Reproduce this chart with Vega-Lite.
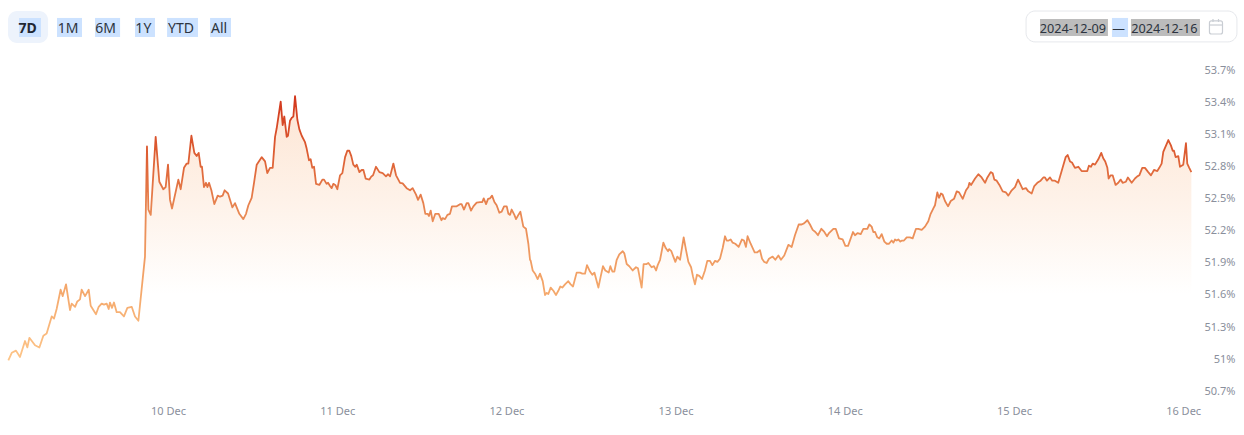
{"$schema":"https://vega.github.io/schema/vega-lite/v6.json","width":1244,"height":432,"padding":0,"autosize":{"type":"none"},"background":"#ffffff","config":{"view":{"stroke":null},"font":"Noto Sans"},
"datasets":{
"panels":[{"t":"2024-12-09T01:18","t2":"2024-12-09T06:59","v":54.247,"v2":53.948}],
"dateBox":[{"t":"2024-12-15T01:43","t2":"2024-12-16T07:38","v":54.247,"v2":53.958}],
"selBlue":[{"t":"2024-12-09T02:52","t2":"2024-12-09T05:59","v":54.182,"v2":54.004},{"t":"2024-12-09T08:15","t2":"2024-12-09T11:48","v":54.182,"v2":54.004},{"t":"2024-12-09T13:39","t2":"2024-12-09T17:12","v":54.182,"v2":54.004},{"t":"2024-12-09T19:19","t2":"2024-12-09T22:09","v":54.182,"v2":54.004},{"t":"2024-12-09T23:52","t2":"2024-12-10T04:15","v":54.182,"v2":54.004},{"t":"2024-12-10T05:58","t2":"2024-12-10T08:56","v":54.182,"v2":54.004},{"t":"2024-12-15T13:54","t2":"2024-12-15T16:11","v":54.182,"v2":54.004}],
"selGray":[{"t":"2024-12-15T03:42","t2":"2024-12-15T13:20","v":54.172,"v2":54.013},{"t":"2024-12-15T16:36","t2":"2024-12-16T02:23","v":54.172,"v2":54.013}],
"icon":[{"t":"2024-12-16T03:44","t2":"2024-12-16T05:35","v":54.154,"v2":54.032}],
"iconLine":[{"t":"2024-12-16T03:44","t2":"2024-12-16T05:35","v":54.116}],
"iconTabs":[{"t":"2024-12-16T04:14","v":54.172,"v2":54.144},{"t":"2024-12-16T05:01","v":54.172,"v2":54.144}],
"active":[{"t":"2024-12-09T04:05","v":54.079,"label":"7D"}],
"buttons":[{"t":"2024-12-09T09:50","v":54.079,"label":"1M"},{"t":"2024-12-09T15:08","v":54.079,"label":"6M"},{"t":"2024-12-09T20:30","v":54.079,"label":"1Y"},{"t":"2024-12-10T01:50","v":54.079,"label":"YTD"},{"t":"2024-12-10T07:15","v":54.079,"label":"All"}],
"dates":[{"t":"2024-12-15T08:22","v":54.079,"label":"2024-12-09"},{"t":"2024-12-15T14:50","v":54.079,"label":"—"},{"t":"2024-12-15T21:20","v":54.079,"label":"2024-12-16"}],
"series":[
{"t":"2024-12-09T01:21","v":50.98},{"t":"2024-12-09T01:50","v":51.05},{"t":"2024-12-09T02:26","v":51.07},{"t":"2024-12-09T03:00","v":51.01},{"t":"2024-12-09T03:43","v":51.16},{"t":"2024-12-09T04:03","v":51.10},{"t":"2024-12-09T04:20","v":51.19},{"t":"2024-12-09T05:08","v":51.12},{"t":"2024-12-09T05:45","v":51.10},{"t":"2024-12-09T06:19","v":51.21},{"t":"2024-12-09T06:47","v":51.23},{"t":"2024-12-09T07:30","v":51.39},{"t":"2024-12-09T07:50","v":51.37},{"t":"2024-12-09T08:12","v":51.46},{"t":"2024-12-09T08:46","v":51.64},{"t":"2024-12-09T09:04","v":51.58},{"t":"2024-12-09T09:32","v":51.69},{"t":"2024-12-09T10:06","v":51.45},{"t":"2024-12-09T10:20","v":51.51},{"t":"2024-12-09T10:49","v":51.48},{"t":"2024-12-09T11:08","v":51.53},{"t":"2024-12-09T11:31","v":51.55},{"t":"2024-12-09T11:45","v":51.64},{"t":"2024-12-09T12:14","v":51.58},{"t":"2024-12-09T12:45","v":51.64},{"t":"2024-12-09T13:02","v":51.49},{"t":"2024-12-09T13:47","v":51.41},{"t":"2024-12-09T14:10","v":51.48},{"t":"2024-12-09T14:35","v":51.51},{"t":"2024-12-09T14:55","v":51.50},{"t":"2024-12-09T15:18","v":51.51},{"t":"2024-12-09T15:35","v":51.46},{"t":"2024-12-09T15:46","v":51.52},{"t":"2024-12-09T16:03","v":51.47},{"t":"2024-12-09T16:20","v":51.52},{"t":"2024-12-09T16:43","v":51.43},{"t":"2024-12-09T17:11","v":51.43},{"t":"2024-12-09T17:45","v":51.39},{"t":"2024-12-09T18:14","v":51.47},{"t":"2024-12-09T18:51","v":51.48},{"t":"2024-12-09T19:19","v":51.39},{"t":"2024-12-09T19:48","v":51.35},{"t":"2024-12-09T20:44","v":51.95},{"t":"2024-12-09T21:01","v":52.98},{"t":"2024-12-09T21:13","v":52.39},{"t":"2024-12-09T21:33","v":52.34},{"t":"2024-12-09T22:15","v":53.07},{"t":"2024-12-09T22:46","v":52.65},{"t":"2024-12-09T23:20","v":52.58},{"t":"2024-12-09T23:40","v":52.60},
{"t":"2024-12-10T00:00","v":52.81},{"t":"2024-12-10T00:17","v":52.48},{"t":"2024-12-10T00:34","v":52.40},{"t":"2024-12-10T01:28","v":52.67},{"t":"2024-12-10T01:48","v":52.58},{"t":"2024-12-10T02:16","v":52.78},{"t":"2024-12-10T02:39","v":52.82},{"t":"2024-12-10T02:53","v":52.82},{"t":"2024-12-10T03:19","v":53.08},{"t":"2024-12-10T03:44","v":52.92},{"t":"2024-12-10T04:04","v":52.89},{"t":"2024-12-10T04:21","v":52.92},{"t":"2024-12-10T04:38","v":52.79},{"t":"2024-12-10T04:49","v":52.79},{"t":"2024-12-10T05:06","v":52.60},{"t":"2024-12-10T05:23","v":52.64},{"t":"2024-12-10T05:35","v":52.60},{"t":"2024-12-10T05:49","v":52.64},{"t":"2024-12-10T06:09","v":52.57},{"t":"2024-12-10T06:34","v":52.44},{"t":"2024-12-10T07:03","v":52.52},{"t":"2024-12-10T07:23","v":52.51},{"t":"2024-12-10T07:45","v":52.52},{"t":"2024-12-10T08:02","v":52.57},{"t":"2024-12-10T08:31","v":52.54},{"t":"2024-12-10T09:08","v":52.41},{"t":"2024-12-10T09:30","v":52.45},{"t":"2024-12-10T10:07","v":52.35},{"t":"2024-12-10T10:41","v":52.30},{"t":"2024-12-10T11:04","v":52.35},{"t":"2024-12-10T11:24","v":52.43},{"t":"2024-12-10T11:52","v":52.50},{"t":"2024-12-10T12:12","v":52.64},{"t":"2024-12-10T12:35","v":52.81},{"t":"2024-12-10T13:17","v":52.88},{"t":"2024-12-10T13:46","v":52.84},{"t":"2024-12-10T14:05","v":52.73},{"t":"2024-12-10T14:28","v":52.78},{"t":"2024-12-10T14:51","v":52.78},
{"t":"2024-12-10T15:11","v":53.07},{"t":"2024-12-10T15:25","v":53.15},{"t":"2024-12-10T15:59","v":53.40},{"t":"2024-12-10T16:16","v":53.18},{"t":"2024-12-10T16:30","v":53.26},{"t":"2024-12-10T16:50","v":53.07},{"t":"2024-12-10T17:01","v":53.08},{"t":"2024-12-10T17:18","v":53.22},{"t":"2024-12-10T17:35","v":53.25},{"t":"2024-12-10T17:47","v":53.26},{"t":"2024-12-10T18:01","v":53.45},{"t":"2024-12-10T18:21","v":53.23},{"t":"2024-12-10T18:38","v":53.14},{"t":"2024-12-10T18:58","v":53.08},{"t":"2024-12-10T19:26","v":53.02},{"t":"2024-12-10T19:40","v":52.96},{"t":"2024-12-10T20:00","v":52.85},{"t":"2024-12-10T20:14","v":52.86},{"t":"2024-12-10T20:28","v":52.78},{"t":"2024-12-10T20:43","v":52.79},{"t":"2024-12-10T21:00","v":52.63},{"t":"2024-12-10T21:28","v":52.62},{"t":"2024-12-10T21:54","v":52.67},{"t":"2024-12-10T22:08","v":52.67},{"t":"2024-12-10T22:30","v":52.63},{"t":"2024-12-10T22:42","v":52.64},{"t":"2024-12-10T22:59","v":52.61},{"t":"2024-12-10T23:13","v":52.59},{"t":"2024-12-10T23:27","v":52.63},{"t":"2024-12-10T23:44","v":52.62},
{"t":"2024-12-11T00:01","v":52.58},{"t":"2024-12-11T00:24","v":52.71},{"t":"2024-12-11T00:44","v":52.73},{"t":"2024-12-11T01:07","v":52.88},{"t":"2024-12-11T01:26","v":52.94},{"t":"2024-12-11T01:43","v":52.94},{"t":"2024-12-11T02:00","v":52.89},{"t":"2024-12-11T02:17","v":52.81},{"t":"2024-12-11T02:34","v":52.79},{"t":"2024-12-11T02:46","v":52.81},{"t":"2024-12-11T03:09","v":52.74},{"t":"2024-12-11T03:28","v":52.76},{"t":"2024-12-11T03:43","v":52.76},{"t":"2024-12-11T04:02","v":52.68},{"t":"2024-12-11T04:34","v":52.67},{"t":"2024-12-11T04:51","v":52.70},{"t":"2024-12-11T05:05","v":52.71},{"t":"2024-12-11T05:30","v":52.79},{"t":"2024-12-11T05:59","v":52.74},{"t":"2024-12-11T06:27","v":52.73},{"t":"2024-12-11T06:55","v":52.70},{"t":"2024-12-11T07:13","v":52.72},{"t":"2024-12-11T07:30","v":52.70},{"t":"2024-12-11T07:58","v":52.82},{"t":"2024-12-11T08:21","v":52.71},{"t":"2024-12-11T08:55","v":52.64},{"t":"2024-12-11T09:17","v":52.635},{"t":"2024-12-11T09:51","v":52.59},{"t":"2024-12-11T10:20","v":52.57},{"t":"2024-12-11T10:42","v":52.59},{"t":"2024-12-11T11:11","v":52.53},{"t":"2024-12-11T11:28","v":52.48},{"t":"2024-12-11T11:50","v":52.53},{"t":"2024-12-11T12:13","v":52.45},{"t":"2024-12-11T12:30","v":52.35},{"t":"2024-12-11T12:50","v":52.35},{"t":"2024-12-11T13:01","v":52.33},{"t":"2024-12-11T13:16","v":52.38},{"t":"2024-12-11T13:33","v":52.28},{"t":"2024-12-11T13:55","v":52.35},{"t":"2024-12-11T14:24","v":52.35},{"t":"2024-12-11T14:47","v":52.29},{"t":"2024-12-11T14:58","v":52.31},{"t":"2024-12-11T15:18","v":52.30},{"t":"2024-12-11T15:38","v":52.34},{"t":"2024-12-11T16:00","v":52.35},{"t":"2024-12-11T16:17","v":52.42},{"t":"2024-12-11T16:37","v":52.42},{"t":"2024-12-11T16:57","v":52.42},{"t":"2024-12-11T17:25","v":52.44},{"t":"2024-12-11T17:39","v":52.44},{"t":"2024-12-11T17:59","v":52.39},{"t":"2024-12-11T18:22","v":52.45},{"t":"2024-12-11T18:36","v":52.45},{"t":"2024-12-11T18:59","v":52.38},{"t":"2024-12-11T19:19","v":52.42},{"t":"2024-12-11T19:47","v":52.455},{"t":"2024-12-11T20:16","v":52.46},{"t":"2024-12-11T20:35","v":52.46},{"t":"2024-12-11T20:47","v":52.495},{"t":"2024-12-11T21:07","v":52.44},{"t":"2024-12-11T21:24","v":52.49},{"t":"2024-12-11T21:41","v":52.495},{"t":"2024-12-11T21:58","v":52.52},{"t":"2024-12-11T22:18","v":52.46},{"t":"2024-12-11T22:37","v":52.43},{"t":"2024-12-11T23:00","v":52.36},{"t":"2024-12-11T23:20","v":52.37},{"t":"2024-12-11T23:40","v":52.42},
{"t":"2024-12-12T00:03","v":52.42},{"t":"2024-12-12T00:17","v":52.35},{"t":"2024-12-12T00:31","v":52.34},{"t":"2024-12-12T00:45","v":52.39},{"t":"2024-12-12T01:08","v":52.34},{"t":"2024-12-12T01:22","v":52.30},{"t":"2024-12-12T01:42","v":52.34},{"t":"2024-12-12T01:59","v":52.37},{"t":"2024-12-12T02:24","v":52.23},{"t":"2024-12-12T02:47","v":52.21},{"t":"2024-12-12T03:07","v":52.07},{"t":"2024-12-12T03:21","v":51.92},{"t":"2024-12-12T03:27","v":51.91},{"t":"2024-12-12T03:44","v":51.82},{"t":"2024-12-12T04:04","v":51.79},{"t":"2024-12-12T04:26","v":51.74},{"t":"2024-12-12T04:46","v":51.79},{"t":"2024-12-12T05:09","v":51.72},{"t":"2024-12-12T05:29","v":51.59},{"t":"2024-12-12T05:43","v":51.61},{"t":"2024-12-12T05:57","v":51.60},{"t":"2024-12-12T06:17","v":51.66},{"t":"2024-12-12T06:40","v":51.63},{"t":"2024-12-12T07:02","v":51.59},{"t":"2024-12-12T07:22","v":51.63},{"t":"2024-12-12T07:39","v":51.67},{"t":"2024-12-12T07:56","v":51.66},{"t":"2024-12-12T08:19","v":51.69},{"t":"2024-12-12T08:47","v":51.72},{"t":"2024-12-12T09:07","v":51.69},{"t":"2024-12-12T09:27","v":51.67},{"t":"2024-12-12T09:58","v":51.80},{"t":"2024-12-12T10:27","v":51.80},{"t":"2024-12-12T10:46","v":51.79},{"t":"2024-12-12T11:09","v":51.79},{"t":"2024-12-12T11:26","v":51.87},{"t":"2024-12-12T11:52","v":51.81},{"t":"2024-12-12T12:11","v":51.78},{"t":"2024-12-12T12:29","v":51.80},{"t":"2024-12-12T13:03","v":51.66},{"t":"2024-12-12T13:22","v":51.76},{"t":"2024-12-12T13:42","v":51.86},{"t":"2024-12-12T14:02","v":51.82},{"t":"2024-12-12T14:31","v":51.80},{"t":"2024-12-12T14:45","v":51.86},{"t":"2024-12-12T15:02","v":51.81},{"t":"2024-12-12T15:19","v":51.81},{"t":"2024-12-12T15:39","v":51.92},{"t":"2024-12-12T16:01","v":51.97},{"t":"2024-12-12T16:30","v":52.00},{"t":"2024-12-12T16:44","v":51.98},{"t":"2024-12-12T17:04","v":51.88},{"t":"2024-12-12T17:26","v":51.86},{"t":"2024-12-12T17:55","v":51.82},{"t":"2024-12-12T18:23","v":51.85},{"t":"2024-12-12T18:40","v":51.84},{"t":"2024-12-12T19:11","v":51.66},{"t":"2024-12-12T19:28","v":51.88},{"t":"2024-12-12T19:54","v":51.88},{"t":"2024-12-12T20:08","v":51.89},{"t":"2024-12-12T20:36","v":51.85},{"t":"2024-12-12T20:56","v":51.86},{"t":"2024-12-12T21:14","v":51.82},{"t":"2024-12-12T21:28","v":51.87},{"t":"2024-12-12T21:48","v":51.92},{"t":"2024-12-12T22:16","v":52.08},{"t":"2024-12-12T22:36","v":52.03},{"t":"2024-12-12T22:56","v":52.00},{"t":"2024-12-12T23:05","v":52.02},{"t":"2024-12-12T23:24","v":52.00},{"t":"2024-12-12T23:41","v":51.95},{"t":"2024-12-12T23:58","v":51.90},
{"t":"2024-12-13T00:15","v":51.95},{"t":"2024-12-13T00:38","v":51.92},{"t":"2024-12-13T01:09","v":52.13},{"t":"2024-12-13T01:29","v":52.01},{"t":"2024-12-13T01:49","v":51.90},{"t":"2024-12-13T02:12","v":51.85},{"t":"2024-12-13T02:29","v":51.76},{"t":"2024-12-13T02:45","v":51.69},{"t":"2024-12-13T03:02","v":51.78},{"t":"2024-12-13T03:22","v":51.77},{"t":"2024-12-13T03:45","v":51.74},{"t":"2024-12-13T04:10","v":51.82},{"t":"2024-12-13T04:30","v":51.91},{"t":"2024-12-13T04:53","v":51.91},{"t":"2024-12-13T05:13","v":51.87},{"t":"2024-12-13T05:36","v":51.91},{"t":"2024-12-13T05:56","v":51.90},{"t":"2024-12-13T06:18","v":51.93},{"t":"2024-12-13T06:41","v":52.03},{"t":"2024-12-13T07:01","v":52.14},{"t":"2024-12-13T07:15","v":52.10},{"t":"2024-12-13T07:32","v":52.10},{"t":"2024-12-13T07:49","v":52.11},{"t":"2024-12-13T08:06","v":52.08},{"t":"2024-12-13T08:28","v":52.07},{"t":"2024-12-13T08:57","v":52.04},{"t":"2024-12-13T09:25","v":52.11},{"t":"2024-12-13T09:42","v":52.10},{"t":"2024-12-13T09:59","v":52.04},{"t":"2024-12-13T10:13","v":52.14},{"t":"2024-12-13T10:39","v":52.07},{"t":"2024-12-13T11:13","v":51.99},{"t":"2024-12-13T11:36","v":51.99},{"t":"2024-12-13T11:58","v":52.01},{"t":"2024-12-13T12:16","v":51.93},{"t":"2024-12-13T12:35","v":51.90},{"t":"2024-12-13T12:55","v":51.89},{"t":"2024-12-13T13:15","v":51.93},{"t":"2024-12-13T13:46","v":51.95},{"t":"2024-12-13T14:09","v":51.92},{"t":"2024-12-13T14:35","v":51.96},{"t":"2024-12-13T14:57","v":51.92},{"t":"2024-12-13T15:25","v":51.96},{"t":"2024-12-13T16:00","v":52.06},{"t":"2024-12-13T16:28","v":52.04},{"t":"2024-12-13T16:56","v":52.15},{"t":"2024-12-13T17:28","v":52.25},{"t":"2024-12-13T17:53","v":52.25},{"t":"2024-12-13T18:13","v":52.26},{"t":"2024-12-13T18:42","v":52.29},{"t":"2024-12-13T19:04","v":52.25},{"t":"2024-12-13T19:27","v":52.20},{"t":"2024-12-13T19:50","v":52.18},{"t":"2024-12-13T20:12","v":52.15},{"t":"2024-12-13T20:41","v":52.21},{"t":"2024-12-13T21:06","v":52.18},{"t":"2024-12-13T21:29","v":52.14},{"t":"2024-12-13T21:46","v":52.17},{"t":"2024-12-13T22:23","v":52.21},{"t":"2024-12-13T22:43","v":52.21},{"t":"2024-12-13T23:11","v":52.12},{"t":"2024-12-13T23:42","v":52.11},
{"t":"2024-12-14T00:05","v":52.05},{"t":"2024-12-14T00:28","v":52.05},{"t":"2024-12-14T01:10","v":52.18},{"t":"2024-12-14T01:27","v":52.15},{"t":"2024-12-14T01:50","v":52.17},{"t":"2024-12-14T02:16","v":52.16},{"t":"2024-12-14T02:38","v":52.21},{"t":"2024-12-14T03:12","v":52.21},{"t":"2024-12-14T03:29","v":52.25},{"t":"2024-12-14T03:49","v":52.23},{"t":"2024-12-14T04:03","v":52.18},{"t":"2024-12-14T04:18","v":52.18},{"t":"2024-12-14T04:37","v":52.13},{"t":"2024-12-14T04:54","v":52.12},{"t":"2024-12-14T05:14","v":52.16},{"t":"2024-12-14T05:37","v":52.09},{"t":"2024-12-14T05:57","v":52.07},{"t":"2024-12-14T06:17","v":52.07},{"t":"2024-12-14T06:39","v":52.10},{"t":"2024-12-14T06:54","v":52.08},{"t":"2024-12-14T07:08","v":52.11},{"t":"2024-12-14T07:22","v":52.10},{"t":"2024-12-14T07:36","v":52.11},{"t":"2024-12-14T07:53","v":52.09},{"t":"2024-12-14T08:07","v":52.10},{"t":"2024-12-14T08:24","v":52.10},{"t":"2024-12-14T08:47","v":52.13},{"t":"2024-12-14T09:15","v":52.13},{"t":"2024-12-14T09:38","v":52.12},{"t":"2024-12-14T10:06","v":52.21},{"t":"2024-12-14T10:26","v":52.21},{"t":"2024-12-14T10:55","v":52.20},{"t":"2024-12-14T11:23","v":52.23},{"t":"2024-12-14T11:51","v":52.28},{"t":"2024-12-14T12:11","v":52.35},{"t":"2024-12-14T12:34","v":52.40},{"t":"2024-12-14T12:48","v":52.43},{"t":"2024-12-14T13:08","v":52.55},{"t":"2024-12-14T13:22","v":52.50},{"t":"2024-12-14T13:39","v":52.54},{"t":"2024-12-14T13:53","v":52.53},{"t":"2024-12-14T14:13","v":52.47},{"t":"2024-12-14T14:39","v":52.42},{"t":"2024-12-14T15:02","v":52.47},{"t":"2024-12-14T15:30","v":52.49},{"t":"2024-12-14T15:53","v":52.56},{"t":"2024-12-14T16:13","v":52.55},{"t":"2024-12-14T16:44","v":52.49},{"t":"2024-12-14T17:12","v":52.57},{"t":"2024-12-14T17:32","v":52.60},{"t":"2024-12-14T17:41","v":52.64},{"t":"2024-12-14T17:55","v":52.62},{"t":"2024-12-14T18:29","v":52.68},{"t":"2024-12-14T18:57","v":52.72},{"t":"2024-12-14T19:25","v":52.69},{"t":"2024-12-14T19:54","v":52.64},{"t":"2024-12-14T20:14","v":52.69},{"t":"2024-12-14T20:42","v":52.74},{"t":"2024-12-14T20:59","v":52.73},{"t":"2024-12-14T21:13","v":52.67},{"t":"2024-12-14T21:33","v":52.66},{"t":"2024-12-14T21:56","v":52.62},{"t":"2024-12-14T22:24","v":52.56},{"t":"2024-12-14T22:52","v":52.55},{"t":"2024-12-14T23:12","v":52.52},{"t":"2024-12-14T23:41","v":52.57},
{"t":"2024-12-15T00:09","v":52.60},{"t":"2024-12-15T00:35","v":52.67},{"t":"2024-12-15T00:57","v":52.62},{"t":"2024-12-15T01:14","v":52.58},{"t":"2024-12-15T01:42","v":52.59},{"t":"2024-12-15T02:02","v":52.56},{"t":"2024-12-15T02:31","v":52.54},{"t":"2024-12-15T02:53","v":52.61},{"t":"2024-12-15T03:19","v":52.64},{"t":"2024-12-15T03:47","v":52.66},{"t":"2024-12-15T04:10","v":52.69},{"t":"2024-12-15T04:24","v":52.69},{"t":"2024-12-15T04:41","v":52.66},{"t":"2024-12-15T05:07","v":52.69},{"t":"2024-12-15T05:26","v":52.66},{"t":"2024-12-15T05:49","v":52.66},{"t":"2024-12-15T06:17","v":52.64},{"t":"2024-12-15T06:54","v":52.78},{"t":"2024-12-15T07:20","v":52.88},{"t":"2024-12-15T07:37","v":52.90},{"t":"2024-12-15T07:57","v":52.84},{"t":"2024-12-15T08:14","v":52.83},{"t":"2024-12-15T08:39","v":52.78},{"t":"2024-12-15T09:08","v":52.79},{"t":"2024-12-15T09:36","v":52.75},{"t":"2024-12-15T10:24","v":52.75},{"t":"2024-12-15T10:38","v":52.80},{"t":"2024-12-15T10:55","v":52.79},{"t":"2024-12-15T11:10","v":52.82},{"t":"2024-12-15T11:30","v":52.81},{"t":"2024-12-15T11:58","v":52.86},{"t":"2024-12-15T12:23","v":52.92},{"t":"2024-12-15T12:40","v":52.87},{"t":"2024-12-15T12:57","v":52.84},{"t":"2024-12-15T13:15","v":52.78},{"t":"2024-12-15T13:26","v":52.68},{"t":"2024-12-15T13:43","v":52.71},{"t":"2024-12-15T14:00","v":52.71},{"t":"2024-12-15T14:25","v":52.62},{"t":"2024-12-15T14:48","v":52.64},{"t":"2024-12-15T15:08","v":52.67},{"t":"2024-12-15T15:25","v":52.64},{"t":"2024-12-15T15:53","v":52.65},{"t":"2024-12-15T16:10","v":52.69},{"t":"2024-12-15T16:42","v":52.64},{"t":"2024-12-15T17:10","v":52.68},{"t":"2024-12-15T17:30","v":52.70},{"t":"2024-12-15T17:47","v":52.71},{"t":"2024-12-15T18:12","v":52.78},{"t":"2024-12-15T18:35","v":52.78},{"t":"2024-12-15T19:03","v":52.74},{"t":"2024-12-15T19:26","v":52.71},{"t":"2024-12-15T19:52","v":52.76},{"t":"2024-12-15T20:20","v":52.75},{"t":"2024-12-15T20:37","v":52.78},{"t":"2024-12-15T20:57","v":52.82},{"t":"2024-12-15T21:11","v":52.93},{"t":"2024-12-15T21:54","v":53.04},{"t":"2024-12-15T22:16","v":52.99},{"t":"2024-12-15T22:31","v":52.94},{"t":"2024-12-15T22:42","v":52.94},{"t":"2024-12-15T22:56","v":52.88},{"t":"2024-12-15T23:19","v":52.89},{"t":"2024-12-15T23:33","v":52.79},
{"t":"2024-12-16T00:01","v":52.81},{"t":"2024-12-16T00:24","v":53.01},{"t":"2024-12-16T00:35","v":52.82},{"t":"2024-12-16T00:52","v":52.78},{"t":"2024-12-16T01:10","v":52.74}
]},
"encoding":{
"x":{"field":"t","type":"temporal","title":null,"scale":{"domain":[{"year":2024,"month":12,"date":9,"hours":0,"minutes":10},{"year":2024,"month":12,"date":16,"hours":8,"minutes":38}]},"axis":{"values":[{"year":2024,"month":12,"date":10},{"year":2024,"month":12,"date":11},{"year":2024,"month":12,"date":12},{"year":2024,"month":12,"date":13},{"year":2024,"month":12,"date":14},{"year":2024,"month":12,"date":15},{"year":2024,"month":12,"date":16}],"format":"%-d %b","grid":false,"ticks":false,"domain":true,"domainColor":"#e5e7eb","domainWidth":1,"labelColor":"#8a8f9c","labelFontSize":11,"labelFont":"Noto Sans","labelBaseline":"middle","labelPadding":-21,"labelOverlap":false,"labelFlush":false}},
"y":{"field":"v","type":"quantitative","title":null,"scale":{"domain":[50.309,54.35],"zero":false,"nice":false},"axis":{"orient":"right","values":[50.7,51,51.3,51.6,51.9,52.2,52.5,52.8,53.1,53.4,53.7],"labelExpr":"datum.value + '%'","grid":false,"ticks":false,"domain":false,"labelColor":"#8a8f9c","labelFontSize":11,"labelFont":"Noto Sans","labelAlign":"right","labelPadding":-9,"labelOffset":1,"labelOverlap":false,"labelFlush":false}}
},
"layer":[
{"data":{"name":"panels"},"mark":{"type":"rect","fill":"#edf3fc","cornerRadius":9},"encoding":{"x2":{"field":"t2"},"y2":{"field":"v2"}}},
{"data":{"name":"dateBox"},"mark":{"type":"rect","fill":"#ffffff","stroke":"#e6e8ec","strokeWidth":1,"cornerRadius":9},"encoding":{"x2":{"field":"t2"},"y2":{"field":"v2"}}},
{"data":{"name":"selBlue"},"mark":{"type":"rect","fill":"#cce2ff"},"encoding":{"x2":{"field":"t2"},"y2":{"field":"v2"}}},
{"data":{"name":"selGray"},"mark":{"type":"rect","fill":"#bcbcbc"},"encoding":{"x2":{"field":"t2"},"y2":{"field":"v2"}}},
{"data":{"name":"icon"},"mark":{"type":"rect","fill":"#ffffff","stroke":"#c9cdd3","strokeWidth":1.2,"cornerRadius":2},"encoding":{"x2":{"field":"t2"},"y2":{"field":"v2"}}},
{"data":{"name":"iconLine"},"mark":{"type":"rule","stroke":"#c9cdd3","strokeWidth":1.2},"encoding":{"x2":{"field":"t2"}}},
{"data":{"name":"iconTabs"},"mark":{"type":"rule","stroke":"#c9cdd3","strokeWidth":1.2},"encoding":{"y2":{"field":"v2"}}},
{"data":{"name":"active"},"mark":{"type":"text","font":"Noto Sans","fontSize":14,"fontWeight":"bold","color":"#1f2733","baseline":"middle","align":"center"},"encoding":{"text":{"field":"label"}}},
{"data":{"name":"buttons"},"mark":{"type":"text","font":"Noto Sans","fontSize":14,"color":"#2c3440","baseline":"middle","align":"center"},"encoding":{"text":{"field":"label"}}},
{"data":{"name":"dates"},"mark":{"type":"text","font":"Noto Sans","fontSize":12.7,"color":"#2c3440","baseline":"middle","align":"center"},"encoding":{"text":{"field":"label"}}},
{"data":{"name":"series"},"mark":{"type":"area","line":false,"fill":{"gradient":"linear","x1":0,"y1":0,"x2":0,"y2":1,"stops":[{"offset":0,"color":"#fde5d3"},{"offset":0.4,"color":"#fef2e9"},{"offset":0.75,"color":"#ffffff"},{"offset":1,"color":"#ffffff"}]}},"encoding":{"y2":{"datum":51.5}}},
{"data":{"name":"series"},"mark":{"type":"line","strokeWidth":1.8,"strokeJoin":"round","stroke":{"gradient":"linear","x1":0,"y1":0,"x2":0,"y2":1,"stops":[{"offset":0,"color":"#d2361c"},{"offset":0.2,"color":"#dc5a30"},{"offset":0.45,"color":"#e98a55"},{"offset":0.7,"color":"#f3a468"},{"offset":1,"color":"#fdc589"}]}}}
]}
